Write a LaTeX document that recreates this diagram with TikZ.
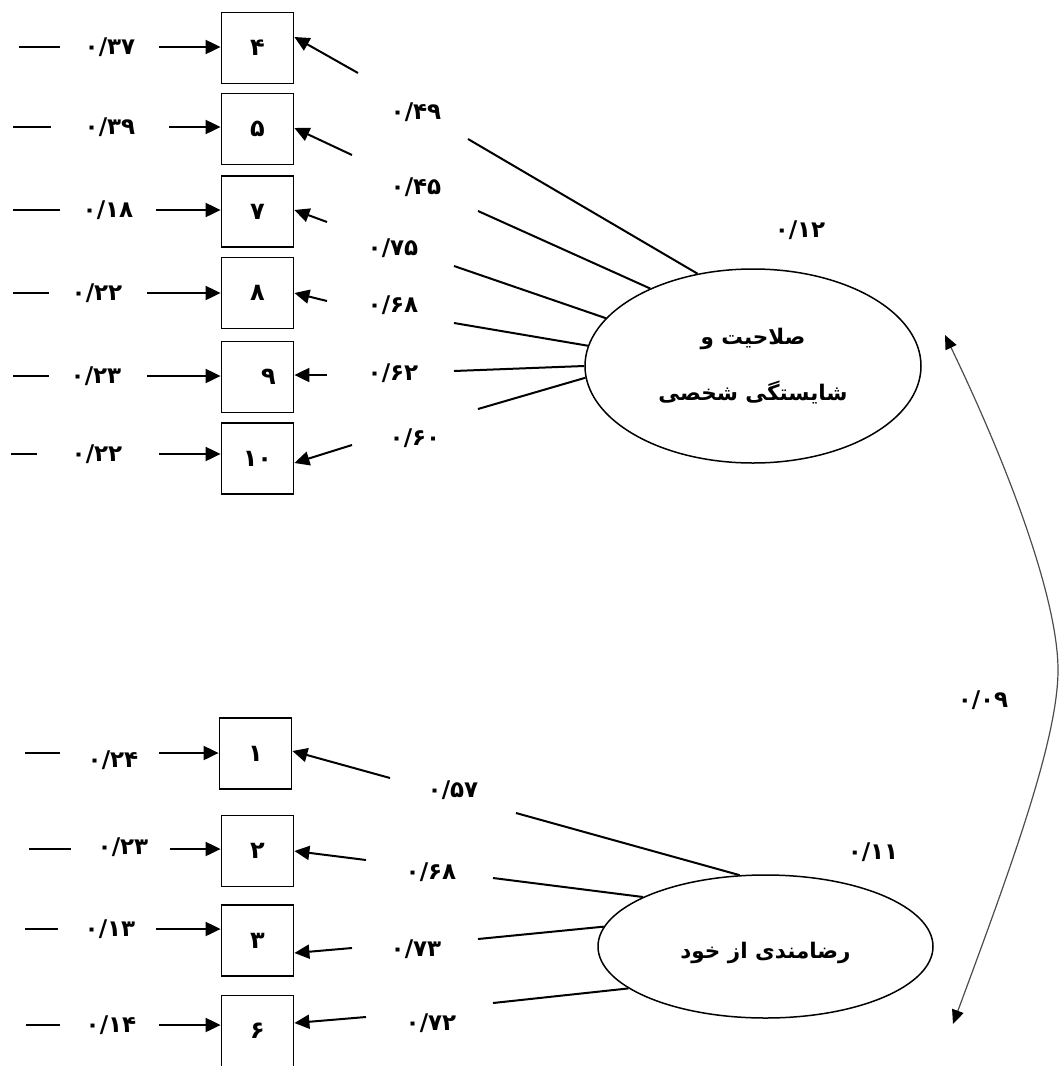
\documentclass[tikz,border=0pt]{standalone}
\usepackage{fontspec}
\newfontfamily\fa[Script=Arabic]{DejaVu Sans}
\TeXXeTstate=1
\usetikzlibrary{arrows.meta,shapes.geometric}
\begin{document}
\begin{tikzpicture}[x=1pt,y=-1pt,
  box/.style={draw, line width=1.8pt, minimum width=72pt, minimum height=71pt, inner sep=0pt, font=\fa\bfseries\fontsize{24}{26}\selectfont},
  lat/.style={draw, ellipse, line width=1.5pt, inner sep=0pt, align=center, font=\fa\bfseries\fontsize{21.5}{56}\selectfont},
  lbl/.style={inner sep=0pt, font=\fa\bfseries\fontsize{23}{26}\selectfont},
  ln/.style={line width=2pt},
  arr/.style={line width=2pt, -{Triangle[length=15pt,width=14pt]}},
  corr/.style={line width=1.2pt, black!70, {Triangle[length=14pt,width=12pt,color=black]}-{Triangle[length=14pt,width=12pt,color=black]}}]
\useasboundingbox (0,0) rectangle (1059,1066);

% ---------- latent variables ----------
\node[lat, minimum width=336pt, minimum height=194pt] (e1) at (753,366)
  {\beginR صلاحیت و\endR\\\beginR شایستگی شخصی\endR};
\node[lat, minimum width=335pt, minimum height=143pt] (e2) at (765.5,946.5)
  {\rule{0pt}{30pt}\beginR رضامندی از خود\endR};
\node[lbl] (v1) at (800,230) {۰/۱۲};
\node[lbl] (v2) at (873,852) {۰/۱۱};
\node[lbl] (cv) at (983,700) {۰/۰۹};

% ---------- indicator boxes ----------
\node[box] (b4) at (257.5,48) {۴};
\node[box] (b5) at (257.5,129) {۵};
\node[box] (b7) at (257.5,211.5) {۷};
\node[box] (b8) at (257.5,293) {۸};
\node[box] (b9) at (257.5,377) {\hspace{22pt}۹};
\node[box] (b10) at (257.5,458.5) {۱۰};
\node[box] (b1) at (255.5,753.5) {۱};
\node[box] (b2) at (257.5,851) {۲};
\node[box] (b3) at (257.5,940.5) {۳};
\node[box] (b6) at (257.5,1031) {۶};

% ---------- error terms (left side) ----------
\foreach \b/\xa/\xb/\y/\xl/\yl/\t/\xs in {
  4/19/60/47/110/47/{۰/۳۷}/159,
  5/13/51/127/110/127/{۰/۳۹}/169,
  7/13/60/210/108/210/{۰/۱۸}/156,
  8/13/49/293/97/293/{۰/۲۲}/147,
  9/13/49/376/96/376/{۰/۲۳}/147,
  10/11/37/454/97/454/{۰/۲۲}/159,
  1/25/60/753/113/760/{۰/۲۴}/159,
  2/29/71/849/123/847/{۰/۲۳}/170,
  3/25/58/929/110/929/{۰/۱۳}/156,
  6/26/60/1025/111/1025/{۰/۱۴}/159}{
  \coordinate (da\b) at (\xa,\y);
  \coordinate (db\b) at (\xb,\y);
  \draw[ln] (da\b) -- (db\b);
  \node[lbl] (el\b) at (\xl,\yl) {\t};
  \coordinate (es\b) at (\xs,\y);
  \draw[arr] (es\b) -- (es\b -| b\b.west);
}

% ---------- loadings: factor 1 ----------
\foreach \b/\sx/\sy/\dy/\lx/\ly/\t/\px/\py/\ang in {
  4/358/73/11/416/112/{۰/۴۹}/468/139/121,
  5/352/155/1/416/187/{۰/۴۵}/478/211/143,
  7/327/222/1.5/393/248/{۰/۷۵}/454/266/162,
  8/327/301/0/393/305/{۰/۶۸}/454/323/173,
  9/327/375/2/393/373/{۰/۶۲}/454/371/180,
  10/352/445/-4.5/415/438/{۰/۶۰}/478/409/184}{
  \coordinate (ls\b) at (\sx,\sy);
  \draw[arr] (ls\b) -- ([yshift=\dy pt]b\b.east);
  \node[lbl] (ll\b) at (\lx,\ly) {\t};
  \coordinate (lp\b) at (\px,\py);
  \draw[ln] (lp\b) -- (e1.\ang);
}

% ---------- loadings: factor 2 ----------
\foreach \b/\sx/\sy/\dy/\lx/\ly/\t/\px/\py/\ang in {
  1/390/778/2.5/453/790/{۰/۵۷}/516/813/110,
  2/366/860/0/431/872/{۰/۶۸}/493/878/158.6,
  3/352/948/-12.5/416/949/{۰/۷۳}/478/939/173.5,
  6/366/1017/8/431/1023/{۰/۷۲}/493/1003/197}{
  \coordinate (ls\b) at (\sx,\sy);
  \draw[arr] (ls\b) -- ([yshift=\dy pt]b\b.east);
  \node[lbl] (ll\b) at (\lx,\ly) {\t};
  \coordinate (lp\b) at (\px,\py);
  \draw[ln] (lp\b) -- (e2.\ang);
}

% ---------- covariance ----------
\coordinate (ct) at (945,335);
\coordinate (cm) at (1058,670);
\coordinate (cb) at (953,1024);
\draw[corr] (ct) .. controls (1010,470) and (1058,600) .. (cm)
                 .. controls (1058,740) and (1010,870) .. (cb);
\end{tikzpicture}
\end{document}
